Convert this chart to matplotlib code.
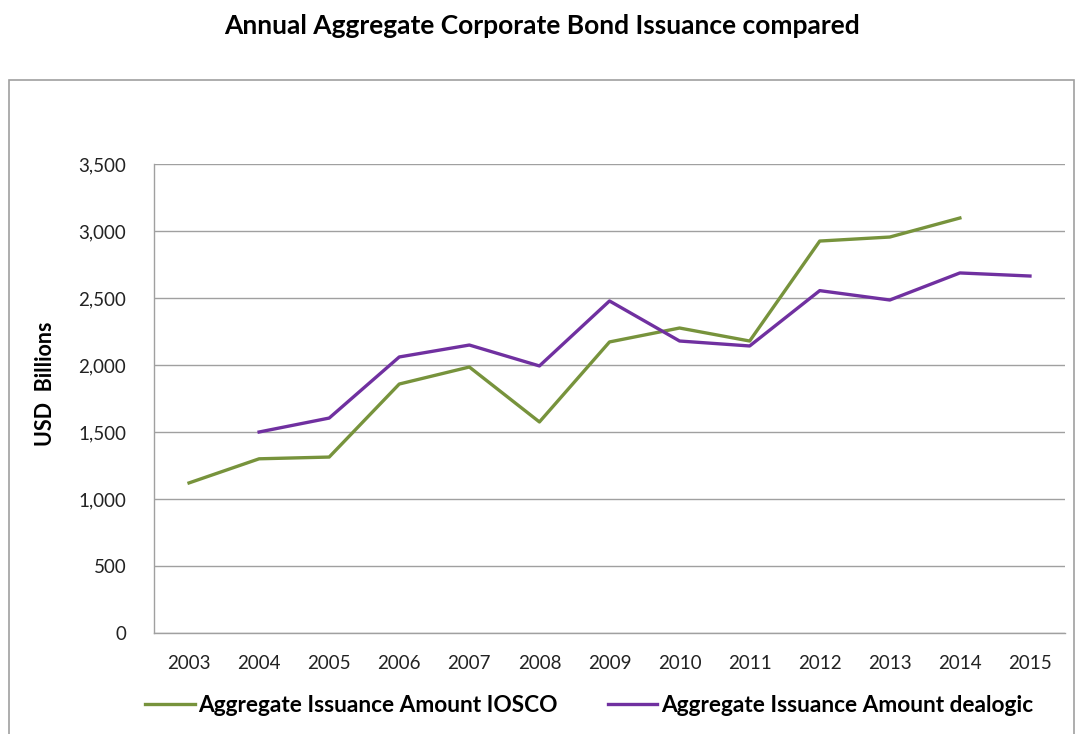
import matplotlib.pyplot as plt
from matplotlib.patches import Rectangle
import numpy as np

plt.rcParams['font.family'] = ['Lato', 'DejaVu Sans']

years = ['2003', '2004', '2005', '2006', '2007', '2008', '2009',
         '2010', '2011', '2012', '2013', '2014', '2015']
iosco = [1120, 1300, 1313, 1858, 1985, 1575, 2172, 2276, 2179, 2925, 2955, 3097, np.nan]
dealogic = [np.nan, 1500, 1604, 2060, 2149, 1993, 2478, 2179, 2142, 2555, 2485, 2687, 2664]

green = '#77933C'
purple = '#7030A0'
grid_col = '#A0A0A0'

fig = plt.figure(figsize=(10.75, 7.34), dpi=100)

# outer chart border
fig.patches.append(Rectangle((9 / 1075, -0.01), 1065 / 1075, (734 - 80) / 734 + 0.01,
                             transform=fig.transFigure, fill=False,
                             edgecolor=grid_col, linewidth=1.2))

ax = fig.add_axes([154 / 1075, (734 - 633) / 734, (1065 - 154) / 1075, (633 - 164) / 734])
x = np.arange(len(years))
ax.plot(x, iosco, color=green, linewidth=2.4, label='Aggregate Issuance Amount IOSCO')
ax.plot(x, dealogic, color=purple, linewidth=2.4, label='Aggregate Issuance Amount dealogic')

ax.set_xlim(-0.5, len(years) - 0.5)
ax.set_ylim(0, 3500)
ax.set_yticks(np.arange(0, 3501, 500))
ax.set_yticklabels([f'{v:,}' for v in range(0, 3501, 500)])
ax.set_xticks(x)
ax.set_xticklabels(years)
ax.tick_params(axis='both', length=0, labelsize=13.5, colors='#222222')
ax.tick_params(axis='y', pad=20)
ax.tick_params(axis='x', pad=16)
ax.grid(axis='y', color=grid_col, linewidth=1)
ax.set_axisbelow(True)
for s in ['top', 'right']:
    ax.spines[s].set_visible(False)
for s in ['left', 'bottom']:
    ax.spines[s].set_color(grid_col)
    ax.spines[s].set_linewidth(1)

fig.text(45 / 1075, (734 - 384) / 734, 'USD  Billions', rotation=90, ha='center', va='center',
         fontsize=15.5, fontweight='bold')
fig.text(542 / 1075, (734 - 26) / 734, 'Annual Aggregate Corporate Bond Issuance compared',
         ha='center', va='center', fontsize=19, fontweight='bold')

fig.legend(loc='center', bbox_to_anchor=(589 / 1075, (734 - 705) / 734), ncol=2, frameon=False,
           prop={'size': 16.3, 'weight': 'bold'}, handlelength=2.2, handletextpad=0.15,
           columnspacing=2.2)

fig.savefig('out.png', dpi=100)
